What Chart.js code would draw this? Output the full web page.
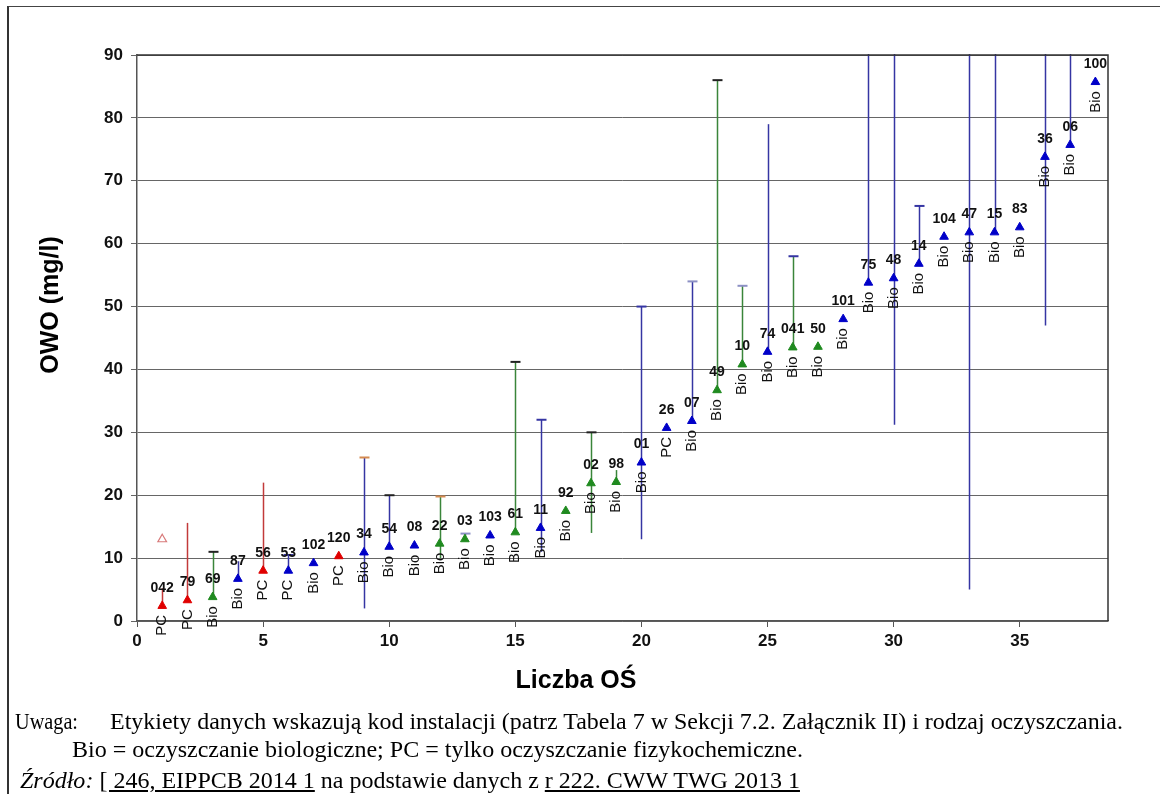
<!DOCTYPE html>
<html>
<head>
<meta charset="utf-8">
<script src="https://cdn.jsdelivr.net/npm/chart.js@4.4.1/dist/chart.umd.min.js"></script>
<style>
  html, body { margin: 0; padding: 0; background: #fff; overflow: hidden; }
  #wrap { position: relative; width: 1160px; height: 794px; }
  #frame { position: absolute; left: 7px; top: 6px; width: 1160px; height: 800px;
           border-left: 2px solid #333; border-top: 1.5px solid #444; box-sizing: border-box; }
  canvas { position: absolute; left: 0; top: 0; }
  .cap { position: absolute; font-family: "Liberation Serif", "Times New Roman", serif;
         font-size: 24px; line-height: 24px; white-space: nowrap; color: #000;
         transform-origin: 0 0; }
  .u { text-decoration: underline; }
</style>
</head>
<body>
<div id="wrap">
  <div id="frame"></div>
  <canvas id="c" width="1160" height="794"></canvas>
  <div class="cap" style="left:15px; top:709px;" data-right="78">Uwaga:</div>
  <div class="cap" style="left:110px; top:709px;" data-right="1123">Etykiety danych wskazują kod instalacji (patrz Tabela 7 w Sekcji 7.2. Załącznik II) i rodzaj oczyszczania.</div>
  <div class="cap" style="left:72px; top:737px;" data-right="803">Bio = oczyszczanie biologiczne; PC = tylko oczyszczanie fizykochemiczne.</div>
  <div class="cap" style="left:20px; top:768px;" data-right="800"><i>Źródło:</i> <span class="u">[ 246, EIPPCB 2014 1</span> na podstawie danych z <span class="u">r 222. CWW TWG 2013 1</span></div>
</div>
<script>
// ---------------- DATA ----------------
const plantNo = [1,2,3,4,5,6,7,8,9,10,11,12,13,14,15,16,17,18,19,20,21,22,23,24,25,26,27,28,29,30,31,32,33,34,35,36,37,38];
const owo = [2.4,3.3,3.8,6.7,8.0,8.0,9.2,10.3,10.9,11.8,12.0,12.3,13.0,13.6,14.1,14.8,17.5,21.9,22.1,25.2,30.7,31.8,36.7,40.8,42.8,43.5,43.6,48.0,53.8,54.5,56.8,61.1,61.8,61.8,62.6,73.8,75.7,85.7];
const codes = ['042','79','69','87','56','53','102','120','34','54','08','22','03','103','61','11','92','02','98','01','26','07','49','10','74','041','50','101','75','48','14','104','47','15','83','36','06','100'];
const types = ['PC','PC','Bio','Bio','PC','PC','Bio','PC','Bio','Bio','Bio','Bio','Bio','Bio','Bio','Bio','Bio','Bio','Bio','Bio','PC','Bio','Bio','Bio','Bio','Bio','Bio','Bio','Bio','Bio','Bio','Bio','Bio','Bio','Bio','Bio','Bio','Bio'];
const group = ['r','r','g','b','r','b','b','r','b','b','b','g','g','b','g','b','g','g','g','b','b','b','g','g','b','g','g','b','b','b','b','b','b','b','b','b','b','b'];
const rangeMax = [5.2,15.6,11.0,9.5,22.0,10.5,null,null,26.0,20.0,null,19.8,13.9,null,41.2,32.0,null,30.0,24.0,50.0,null,54.0,86.0,53.3,79.0,58.0,null,null,100,100,66.0,null,100,100,null,100,100,null];
const rangeMin = [null,null,null,null,null,null,null,null,2.0,null,null,10.0,null,null,null,11.0,null,14.0,null,13.0,null,null,null,null,null,null,null,null,null,31.2,null,null,5.0,null,null,47.0,null,null];
const outlierX = [1];
const outlierY = [13.0];
const xTicks = [0,5,10,15,20,25,30,35];
const yTicks = [0,10,20,30,40,50,60,70,80,90];

// ---------------- STYLES ----------------
const markColor = { r: '#e00000', g: '#1f8a1f', b: '#0000c8' };
const barColor  = { r: '#c23a3a', g: '#3a853a', b: '#3535a3' };
const capColors = [null,null,'#222',null,null,'#3535a3',null,null,'#d48a50','#222',null,'#d48a50','#8c90c4',null,'#222','#3535a3',null,'#222',null,'#3535a3',null,'#8c90c4','#222','#8c90c4',null,'#3535a3',null,null,null,null,'#3535a3',null,null,null,null,null,null,null];
const FONT = '"Liberation Sans", Arial, sans-serif';

function seriesData(g) {
  const out = [];
  plantNo.forEach((x, i) => { if (group[i] === g) out.push({ x: x, y: owo[i] }); });
  return out;
}

const errorBars = {
  id: 'errorBars',
  beforeDatasetsDraw(chart) {
    const { ctx, chartArea: a, scales: { x, y } } = chart;
    ctx.save();
    ctx.beginPath();
    ctx.rect(a.left, a.top - 1, a.right - a.left, a.bottom - a.top + 1);
    ctx.clip();
    plantNo.forEach((xv, i) => {
      if (rangeMax[i] == null && rangeMin[i] == null) return;
      const px = Math.round(x.getPixelForValue(xv)) + 0.5;
      const top = y.getPixelForValue(rangeMax[i] != null ? rangeMax[i] : owo[i]);
      const bot = y.getPixelForValue(rangeMin[i] != null ? rangeMin[i] : owo[i]);
      ctx.strokeStyle = barColor[group[i]];
      ctx.lineWidth = 1.5;
      ctx.beginPath(); ctx.moveTo(px, top); ctx.lineTo(px, bot); ctx.stroke();
      if (capColors[i]) {
        ctx.strokeStyle = capColors[i];
        ctx.lineWidth = 2;
        ctx.beginPath(); ctx.moveTo(px - 5, top); ctx.lineTo(px + 5, top); ctx.stroke();
      }
    });
    ctx.restore();
    // plot frame top/right
    ctx.save();
    ctx.strokeStyle = '#333';
    ctx.lineWidth = 1.5;
    ctx.beginPath();
    ctx.moveTo(a.left, a.top); ctx.lineTo(a.right, a.top); ctx.lineTo(a.right, a.bottom);
    ctx.stroke();
    ctx.restore();
  }
};

const pointLabels = {
  id: 'pointLabels',
  afterDatasetsDraw(chart) {
    const { ctx, scales: { x, y } } = chart;
    ctx.save();
    ctx.fillStyle = '#111';
    plantNo.forEach((xv, i) => {
      const px = x.getPixelForValue(xv);
      const py = y.getPixelForValue(owo[i]);
      ctx.font = 'bold 14px ' + FONT;
      ctx.textAlign = 'center';
      ctx.textBaseline = 'middle';
      ctx.fillText(codes[i], px, py - 18);
      ctx.save();
      ctx.font = '15px ' + FONT;
      ctx.translate(px, py + 9);
      ctx.rotate(-Math.PI / 2);
      ctx.textAlign = 'right';
      ctx.textBaseline = 'middle';
      ctx.fillText(types[i], 0, 0);
      ctx.restore();
    });
    ctx.restore();
  }
};

const axisTitles = {
  id: 'axisTitles',
  afterDraw(chart) {
    const { ctx } = chart;
    ctx.save();
    ctx.fillStyle = '#000';
    ctx.font = 'bold 25px ' + FONT;
    ctx.textAlign = 'center';
    ctx.textBaseline = 'middle';
    ctx.fillText('Liczba OŚ', 576, 681);
    ctx.translate(51, 305);
    ctx.rotate(-Math.PI / 2);
    ctx.fillText('OWO (mg/l)', 0, 0);
    ctx.restore();
  }
};

const triangleDs = (g) => ({
  data: seriesData(g),
  pointStyle: 'triangle',
  pointRadius: 5,
  pointHoverRadius: 5,
  backgroundColor: markColor[g],
  borderColor: markColor[g],
  borderWidth: 1,
  showLine: false
});

new Chart(document.getElementById('c'), {
  type: 'scatter',
  data: {
    datasets: [
      { data: outlierX.map((v, i) => ({ x: v, y: outlierY[i] })), pointStyle: 'triangle', pointRadius: 5,
        backgroundColor: '#fff', borderColor: '#d87a7a', borderWidth: 1.2, showLine: false },
      triangleDs('r'), triangleDs('g'), triangleDs('b')
    ]
  },
  options: {
    responsive: false,
    animation: false,
    devicePixelRatio: 1,
    layout: { padding: { left: 0, top: 55, right: 52, bottom: 0 } },
    plugins: { legend: { display: false }, tooltip: { enabled: false } },
    scales: {
      x: {
        type: 'linear', min: 0, max: 38.5,
        afterFit(s) { s.height = 794 - 621; },
        afterBuildTicks(s) { s.ticks = xTicks.map(v => ({ value: v })); },
        ticks: { font: { family: FONT, size: 17, weight: 'bold' }, color: '#111', padding: 4, maxRotation: 0 },
        grid: { drawOnChartArea: false, drawTicks: true, tickLength: 6, color: '#555', lineWidth: 1 },
        border: { color: '#555', width: 1.5 }
      },
      y: {
        type: 'linear', min: 0, max: 90,
        afterFit(s) { s.width = 137; },
        afterBuildTicks(s) { s.ticks = yTicks.map(v => ({ value: v })); },
        ticks: { font: { family: FONT, size: 17, weight: 'bold' }, color: '#111', padding: 8 },
        grid: { drawOnChartArea: true, drawTicks: true, tickLength: 6, color: '#666', lineWidth: 1 },
        border: { color: '#555', width: 1.5 }
      }
    }
  },
  plugins: [errorBars, pointLabels, axisTitles]
});

// fit caption widths (the source text is horizontally condensed)
document.querySelectorAll('.cap').forEach(el => {
  const left = parseFloat(el.style.left);
  const right = parseFloat(el.dataset.right);
  const w = el.getBoundingClientRect().width;
  el.style.transform = 'scaleX(' + ((right - left) / w).toFixed(4) + ')';
});
</script>
</body>
</html>
